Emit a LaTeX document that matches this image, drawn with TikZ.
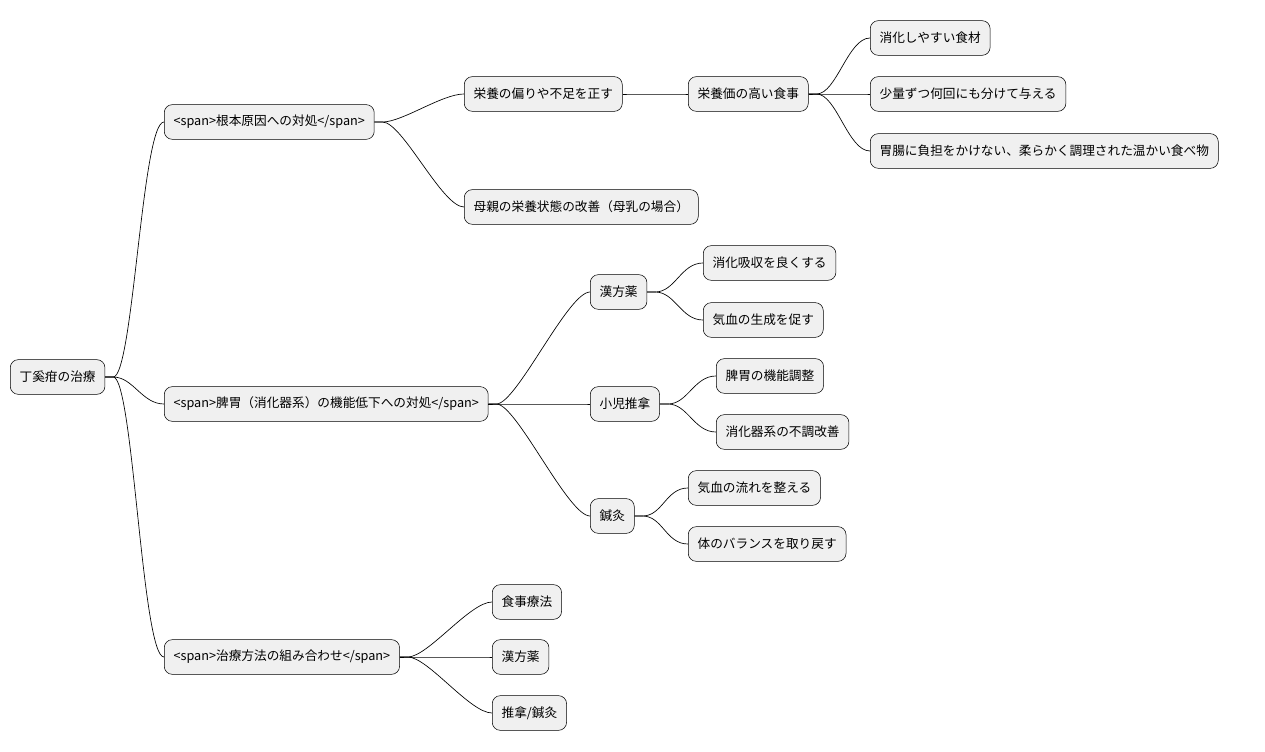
\documentclass[tikz,border=0pt]{standalone}
\usepackage{fontspec}
\setmainfont{Noto Sans CJK JP}
\usetikzlibrary{positioning}
\tikzset{
    topic/.style={draw=black, fill=black!6, rounded corners=6pt,
        minimum height=26pt, inner xsep=7pt, anchor=west,
        font=\fontsize{9.5pt}{11pt}\selectfont},
    branch/.style={draw=black, line width=0.5pt,
        to path={(\tikztostart) -- ++(8,0)
            .. controls +(20,0) and +(-22,0) .. (\tikztotarget)}}
}
\begin{document}
\begin{tikzpicture}[x=0.75pt,y=-0.75pt]
        \useasboundingbox (0,0) rectangle (1265,752);

        \node[topic] (root) at (10,377) {丁奚疳の治療};

        \node[topic] (cause) at (164,122) {<span>根本原因への対処</span>};
        \node[topic] (fix) at (464,94) {栄養の偏りや不足を正す};
        \node[topic] (meal) at (688,94) {栄養価の高い食事};
        \node[topic] (meal1) at (870,38) {消化しやすい食材};
        \node[topic] (meal2) at (870,94) {少量ずつ何回にも分けて与える};
        \node[topic] (meal3) at (870,151) {胃腸に負担をかけない、柔らかく調理された温かい食べ物};
        \node[topic] (mother) at (464,207) {母親の栄養状態の改善（母乳の場合）};

        \node[topic] (spleen) at (164,404) {<span>脾胃（消化器系）の機能低下への対処</span>};
        \node[topic] (herb) at (590,292) {漢方薬};
        \node[topic] (herb1) at (703,263) {消化吸収を良くする};
        \node[topic] (herb2) at (703,320) {気血の生成を促す};
        \node[topic] (tuina) at (590,404) {小児推拿};
        \node[topic] (tuina1) at (716,376) {脾胃の機能調整};
        \node[topic] (tuina2) at (716,432) {消化器系の不調改善};
        \node[topic] (acu) at (590,516) {鍼灸};
        \node[topic] (acu1) at (688,488) {気血の流れを整える};
        \node[topic] (acu2) at (688,544) {体のバランスを取り戻す};

        \node[topic] (combo) at (164,657) {<span>治療方法の組み合わせ</span>};
        \node[topic] (combo1) at (492,602) {食事療法};
        \node[topic] (combo2) at (492,657) {漢方薬};
        \node[topic] (combo3) at (492,713) {推拿/鍼灸};

        % branches
        \foreach \a/\b in {root/cause, root/spleen, root/combo,
            cause/fix, cause/mother, fix/meal,
            meal/meal1, meal/meal2, meal/meal3,
            spleen/herb, spleen/tuina, spleen/acu,
            herb/herb1, herb/herb2, tuina/tuina1, tuina/tuina2,
            acu/acu1, acu/acu2,
            combo/combo1, combo/combo2, combo/combo3}
            \path (\a.east) edge[branch] (\b.west);
\end{tikzpicture}
\end{document}
